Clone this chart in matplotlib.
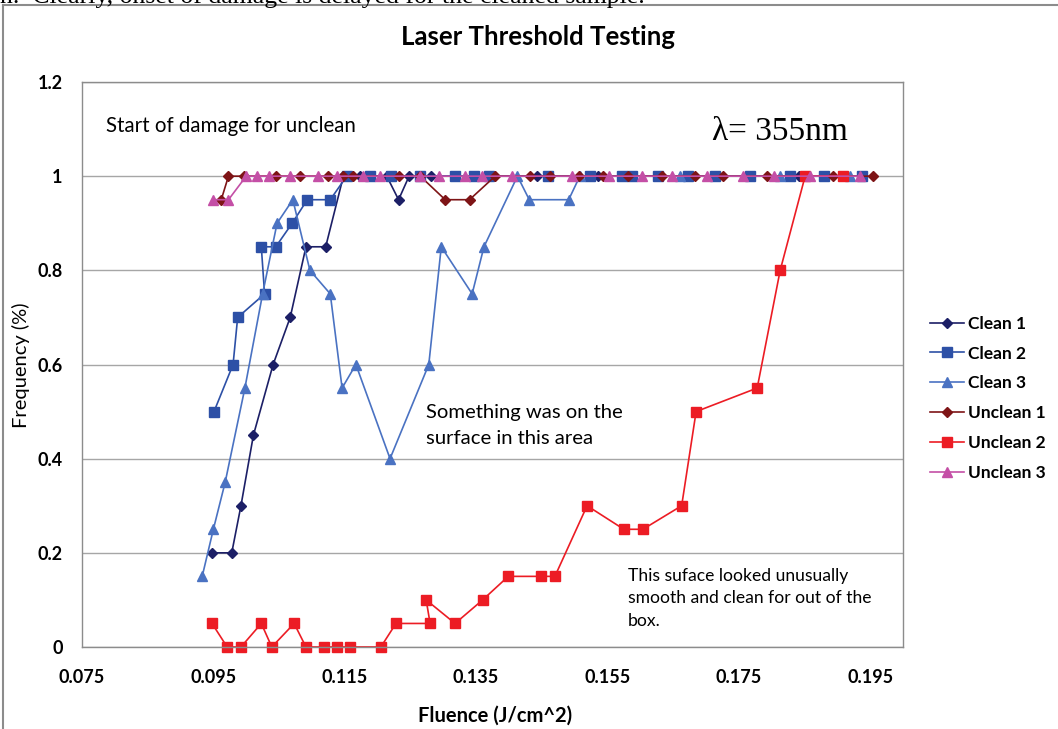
import matplotlib
matplotlib.use("Agg")
import matplotlib.pyplot as plt
from matplotlib.lines import Line2D

# %%
# data
clean1_x = [0.0948, 0.0978, 0.0992, 0.1011, 0.1041, 0.1067, 0.1091, 0.1121, 0.1148, 0.1173,
            0.1214, 0.1232, 0.1248, 0.1281, 0.1443, 0.1536, 0.1841]
clean1_y = [0.2, 0.2, 0.3, 0.45, 0.6, 0.7, 0.85, 0.85, 1, 1,
            1, 0.95, 1, 1, 1, 1, 1]

clean2_x = [0.0951, 0.0980, 0.0987, 0.1028, 0.1023, 0.1045, 0.1070, 0.1093, 0.1128, 0.1153,
            0.1189, 0.1221, 0.1265, 0.1318, 0.1347, 0.1370, 0.1460, 0.1523, 0.1572, 0.1587,
            0.1627, 0.1673, 0.1714, 0.1767, 0.1828, 0.1880, 0.1937]
clean2_y = [0.5, 0.6, 0.7, 0.75, 0.85, 0.85, 0.9, 0.95, 0.95, 1,
            1, 1, 1, 1, 1, 1, 1, 1, 1, 1,
            1, 1, 1, 1, 1, 1, 1]

clean3_x = [0.0933, 0.0950, 0.0968, 0.0998, 0.1025, 0.1047, 0.1071, 0.1097, 0.1128, 0.1146,
            0.1167, 0.1219, 0.1278, 0.1297, 0.1344, 0.1362, 0.1413, 0.1431, 0.1491, 0.1508,
            0.1661, 0.1813, 0.1919]
clean3_y = [0.15, 0.25, 0.35, 0.55, 0.75, 0.9, 0.95, 0.8, 0.75, 0.55,
            0.6, 0.4, 0.6, 0.85, 0.75, 0.85, 1, 0.95, 0.95, 1,
            1, 1, 1]

unclean1_x = [0.0962, 0.0973, 0.0996, 0.1046, 0.1082, 0.1125, 0.1148, 0.1163, 0.1232, 0.1265,
              0.1303, 0.1340, 0.1379, 0.1432, 0.1463, 0.1506, 0.1544, 0.1582, 0.1633, 0.1683,
              0.1726, 0.1793, 0.1893, 0.1954]
unclean1_y = [0.95, 1, 1, 1, 1, 1, 1, 1, 1, 1,
              0.95, 0.95, 1, 1, 1, 1, 1, 1, 1, 1,
              1, 1, 1, 1]

unclean2_x = [0.0948, 0.0971, 0.0992, 0.1023, 0.1039, 0.1073, 0.1091, 0.1118, 0.1139, 0.1158,
              0.1205, 0.1228, 0.1280, 0.1274, 0.1318, 0.1360, 0.1399, 0.1449, 0.1470, 0.1519,
              0.1575, 0.1604, 0.1663, 0.1685, 0.1778, 0.1813, 0.1851, 0.1909]
unclean2_y = [0.05, 0, 0, 0.05, 0, 0.05, 0, 0, 0, 0,
              0, 0.05, 0.05, 0.1, 0.05, 0.1, 0.15, 0.15, 0.15, 0.3,
              0.25, 0.25, 0.3, 0.5, 0.55, 0.8, 1, 1]

unclean3_x = [0.0950, 0.0973, 0.1000, 0.1016, 0.1034, 0.1067, 0.1110, 0.1138, 0.1178, 0.1204,
              0.1265, 0.1294, 0.1333, 0.1359, 0.1404, 0.1496, 0.1553, 0.1602, 0.1648, 0.1701,
              0.1756, 0.1803, 0.1859, 0.1935]
unclean3_y = [0.95, 0.95, 1, 1, 1, 1, 1, 1, 1, 1,
              1, 1, 1, 1, 1, 1, 1, 1, 1, 1,
              1, 1, 1, 1]

x_ticks = [0.075, 0.095, 0.115, 0.135, 0.155, 0.175, 0.195]
y_ticks = [0, 0.2, 0.4, 0.6, 0.8, 1, 1.2]
y_tick_labels = ['0', '0.2', '0.4', '0.6', '0.8', '1', '1.2']

# %%
plt.rcParams['font.family'] = ['Lato', 'DejaVu Sans']

fig = plt.figure(figsize=(10.58, 7.29), dpi=100)
ax = fig.add_axes([82 / 1058, 1 - 647 / 729, (903 - 82) / 1058, (647 - 82) / 729])

series = [
    (clean1_x, clean1_y, 'Clean 1', '#1c1f66', 'D', 5.0),
    (clean2_x, clean2_y, 'Clean 2', '#2d50a6', 's', 6.5),
    (clean3_x, clean3_y, 'Clean 3', '#4a72c2', '^', 6.5),
    (unclean1_x, unclean1_y, 'Unclean 1', '#7e1416', 'D', 5.0),
    (unclean2_x, unclean2_y, 'Unclean 2', '#ec1c24', 's', 6.5),
    (unclean3_x, unclean3_y, 'Unclean 3', '#c44fa6', '^', 6.5),
]
for xs, ys, name, col, mk, ms in series:
    ax.plot(xs, ys, color=col, marker=mk, markersize=ms, linewidth=1.2,
            label=name, clip_on=False)

ax.set_xlim(0.075, 0.2)
ax.set_ylim(0, 1.2)
ax.set_xticks(x_ticks)
ax.set_xticklabels([f'{t:.3f}' for t in x_ticks])
ax.set_yticks(y_ticks)
ax.set_yticklabels(y_tick_labels)
ax.tick_params(axis='y', length=0, labelsize=13, pad=14)
ax.tick_params(axis='x', length=0, labelsize=13, pad=16)
for lab in ax.get_xticklabels() + ax.get_yticklabels():
    lab.set_fontweight('bold')
ax.yaxis.grid(True, color='#a6a6a6', linewidth=1.0)
ax.set_axisbelow(True)
for sp in ax.spines.values():
    sp.set_color('#8c8c8c')
    sp.set_linewidth(1.0)

ax.set_xlabel('Fluence (J/cm^2)', fontsize=14.5, fontweight='bold')
ax.xaxis.set_label_coords((495 - 82) / 821, -(716 - 647) / 565)
ax.set_ylabel('Frequency (%)', fontsize=14.5)
ax.yaxis.set_label_coords(-(82 - 21) / 821, (647 - 365) / 565)
ax.xaxis.label.set_va('center')
ax.yaxis.label.set_va('center')
fig.text(538 / 1058, 1 - 37 / 729, 'Laser Threshold Testing', ha='center', va='center',
         fontsize=18.5, fontweight='bold')

# annotations
ax.text(0.0786, 1.107, 'Start of damage for unclean', fontsize=14.8, va='center')
ax.text(0.1709, 1.095, '\u03bb= 355nm', fontsize=24, va='center', family='Liberation Serif')
ax.text(0.1274, 0.517, 'Something was on the\nsurface in this area', fontsize=14.6,
        va='top', linespacing=1.7)
ax.text(0.1581, 0.168, 'This suface looked unusually\nsmooth and clean for out of the\nbox.',
        fontsize=12.6, va='top', linespacing=1.5)

leg = fig.legend(loc='upper left', bbox_to_anchor=(914 / 1058, 1 - 300 / 729), frameon=False,
                 fontsize=12.5, handlelength=2.0, handletextpad=0.2, labelspacing=0.8)
for t in leg.get_texts():
    t.set_fontweight('bold')

# surrounding chart frame and clipped caption from the page above
fig.add_artist(Line2D([3 / 1058, 3 / 1058], [0, 1 - 5 / 729], color='#8c8c8c', linewidth=1.5))
fig.add_artist(Line2D([3 / 1058, 1], [1 - 5 / 729, 1 - 5 / 729], color='#8c8c8c', linewidth=1.5))
fig.text(0.0, 1.005, 'n.  Clearly, onset of damage is delayed for the cleaned sample.',
         fontsize=18.5, family='Liberation Serif', va='center')

fig.savefig('out.png', dpi=100)
